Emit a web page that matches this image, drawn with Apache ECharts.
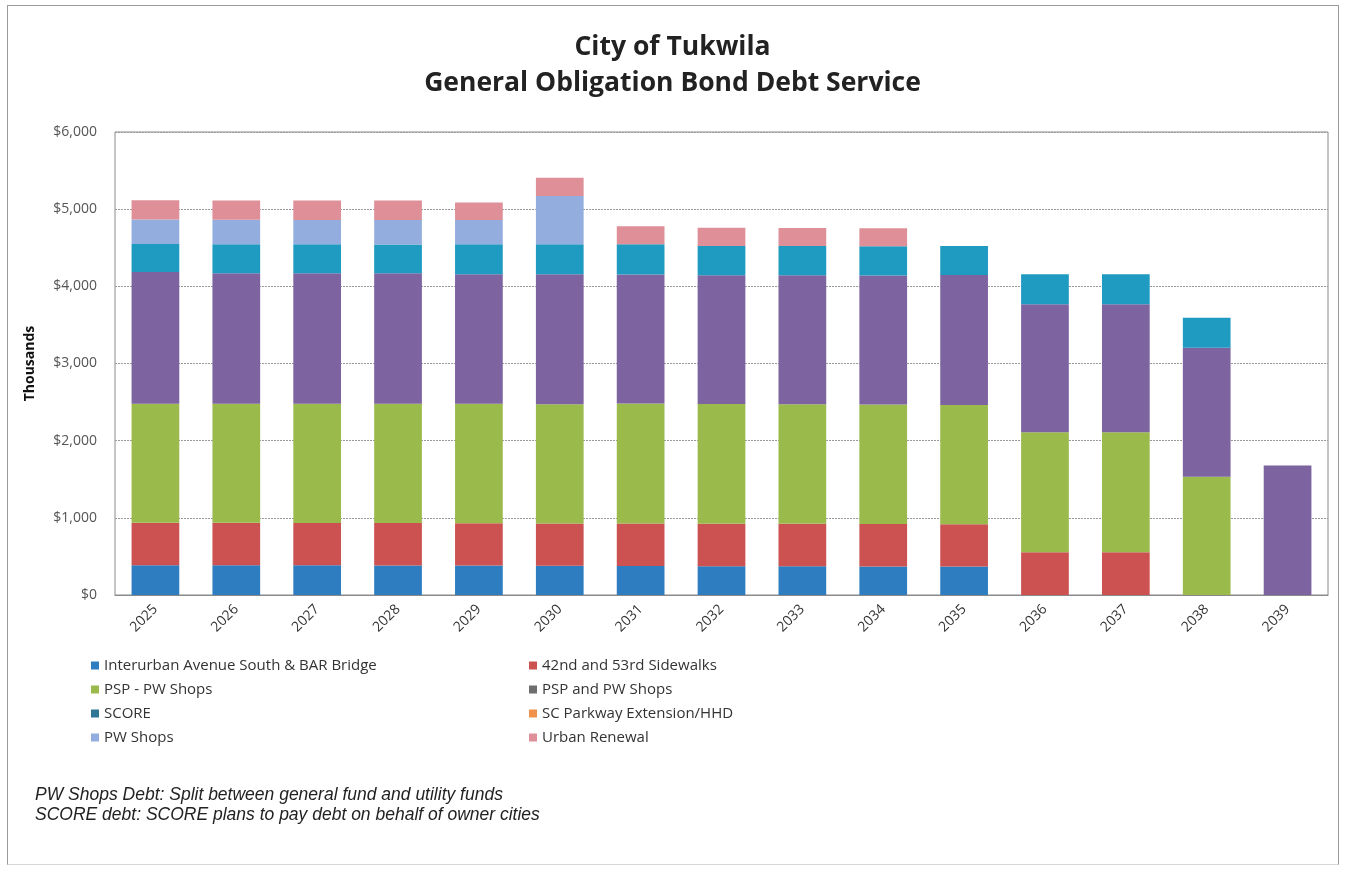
<!DOCTYPE html>
<html>
<head>
<meta charset="utf-8">
<title>City of Tukwila - General Obligation Bond Debt Service</title>
<script src="https://cdn.jsdelivr.net/npm/echarts@6/dist/echarts.min.js"></script>
<style>
  html, body { margin: 0; padding: 0; background: #fff; }
  #frame {
    position: absolute; left: 7px; top: 5px; width: 1330px; height: 858px;
    border: 1px solid #9a9a9a; border-bottom-color: #d8d8d8;
  }
  #main { position: absolute; left: 0; top: 0; width: 1345px; height: 871px; }
</style>
</head>
<body>
<div id="frame"></div>
<div id="main"></div>
<script>
// 年份
var years = ['2025', '2026', '2027', '2028', '2029', '2030', '2031', '2032',
  '2033', '2034', '2035', '2036', '2037', '2038', '2039'];

// 各项债务（千美元）
var interurban = [386, 385, 384, 383, 382, 378, 376, 374, 372, 370, 368, 0, 0, 0, 0];
var sidewalks = [549, 550, 550, 550, 549, 550, 551, 550, 551, 550, 550, 553, 553, 0, 0];
var pspDash = [1542, 1545, 1545, 1545, 1549, 1545, 1555, 1550, 1550, 1550, 1545, 1555, 1555, 1534, 0];
var pspAnd = [1709, 1690, 1690, 1690, 1676, 1683, 1670, 1670, 1670, 1670, 1684, 1660, 1660, 1670, 1677];
var score = [363, 375, 375, 375, 389, 389, 392, 380, 380, 380, 376, 389, 389, 388, 0];
var scParkway = [0, 0, 0, 0, 0, 0, 0, 0, 0, 0, 0, 0, 0, 0, 0];
var pwShops = [317, 317, 317, 317, 313, 626, 0, 0, 0, 0, 0, 0, 0, 0, 0];
var urbanRenewal = [251, 251, 251, 251, 228, 237, 234, 234, 234, 234, 0, 0, 0, 0, 0];

// y轴刻度
var yTicks = [0, 1000, 2000, 3000, 4000, 5000, 6000];

var textFont = 'Open Sans';

function makeBar(name, data, color) {
  return {
    name: name,
    type: 'bar',
    stack: 'debt',
    barWidth: '59%',
    data: data,
    itemStyle: { color: color }
  };
}

var option = {
  animation: false,
  backgroundColor: 'transparent',
  title: {
    text: 'City of Tukwila\nGeneral Obligation Bond Debt Service',
    left: 'center',
    top: 24,
    textStyle: {
      fontFamily: textFont,
      fontSize: 26.5,
      fontWeight: 'bold',
      color: '#222',
      lineHeight: 36
    }
  },
  legend: [
    {
      orient: 'vertical',
      left: 86,
      top: 653,
      itemWidth: 8,
      itemHeight: 8,
      itemGap: 9,
      icon: 'rect',
      textStyle: { fontFamily: textFont, fontSize: 15, color: '#333' },
      data: [
        'Interurban Avenue South & BAR Bridge',
        'PSP - PW Shops',
        { name: 'SCORE', itemStyle: { color: '#2f7595' } },
        'PW Shops'
      ]
    },
    {
      orient: 'vertical',
      left: 524,
      top: 653,
      itemWidth: 8,
      itemHeight: 8,
      itemGap: 9,
      icon: 'rect',
      textStyle: { fontFamily: textFont, fontSize: 15, color: '#333' },
      data: [
        '42nd and 53rd Sidewalks',
        { name: 'PSP and PW Shops', itemStyle: { color: '#6e6e6e' } },
        'SC Parkway Extension/HHD',
        'Urban Renewal'
      ]
    }
  ],
  grid: {
    left: 115,
    right: 17,
    top: 132,
    bottom: 276,
    show: true,
    borderColor: '#8a8a8a',
    borderWidth: 1
  },
  xAxis: {
    type: 'category',
    data: years,
    axisTick: { show: false },
    axisLine: { lineStyle: { color: '#8a8a8a' } },
    axisLabel: {
      rotate: 45,
      margin: 12,
      fontFamily: textFont,
      fontSize: 14,
      color: '#333'
    }
  },
  yAxis: {
    type: 'value',
    min: yTicks[0],
    max: yTicks[yTicks.length - 1],
    interval: 1000,
    name: 'Thousands',
    nameLocation: 'middle',
    nameGap: 78,
    nameTextStyle: { fontFamily: textFont, fontSize: 14, fontWeight: 'bold', color: '#111' },
    axisLine: { show: false },
    axisTick: { show: false },
    axisLabel: {
      margin: 18,
      fontFamily: textFont,
      fontSize: 14,
      color: '#555',
      formatter: function (v) {
        return '$' + v.toLocaleString('en-US');
      }
    },
    splitLine: { lineStyle: { color: '#9a9a9a', type: [2, 1] } }
  },
  series: [
    makeBar('Interurban Avenue South & BAR Bridge', interurban, '#2d7dc0'),
    makeBar('42nd and 53rd Sidewalks', sidewalks, '#cb5250'),
    makeBar('PSP - PW Shops', pspDash, '#9aba4c'),
    makeBar('PSP and PW Shops', pspAnd, '#7d63a0'),
    makeBar('SCORE', score, '#1f9ac0'),
    makeBar('SC Parkway Extension/HHD', scParkway, '#f0924a'),
    makeBar('PW Shops', pwShops, '#93aede'),
    makeBar('Urban Renewal', urbanRenewal, '#de8f98')
  ],
  graphic: [
    {
      type: 'text',
      left: 35,
      top: 785,
      style: {
        text: 'PW Shops Debt: Split between general fund and utility funds\nSCORE debt: SCORE plans to pay debt on behalf of owner cities',
        font: 'italic 17.5px "Liberation Sans", Arial, sans-serif',
        fill: '#222',
        lineHeight: 20
      }
    }
  ]
};

var chart = echarts.init(document.getElementById('main'), null, { renderer: 'canvas' });
chart.setOption(option);
</script>
</body>
</html>
